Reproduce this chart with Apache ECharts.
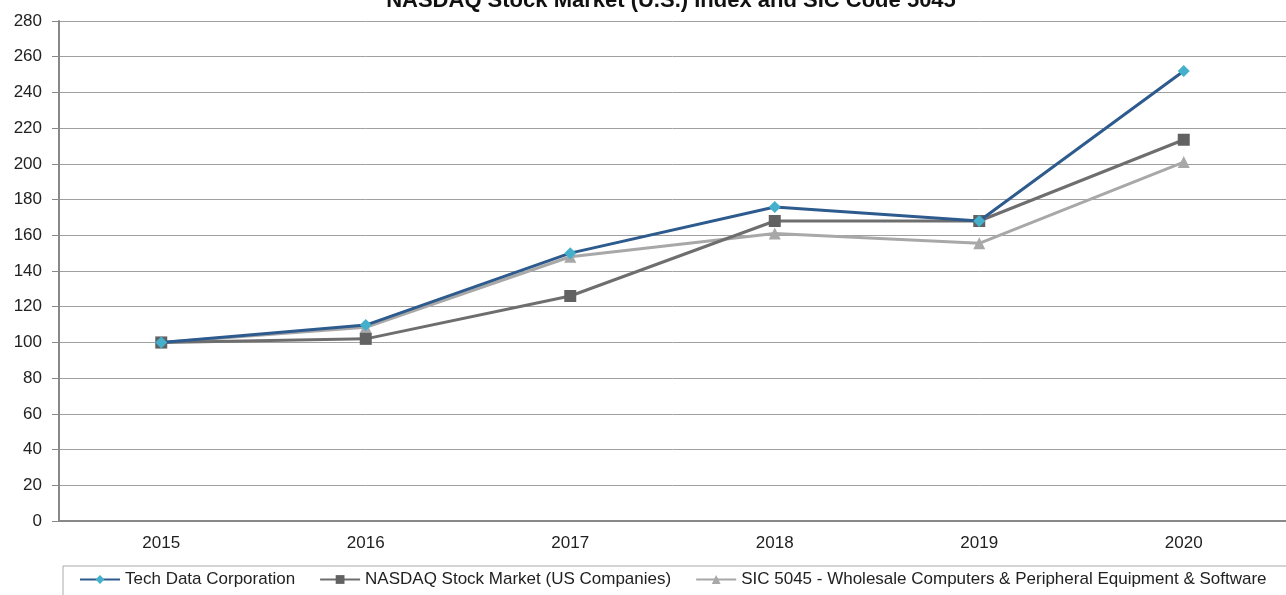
<!DOCTYPE html>
<html><head><meta charset="utf-8">
<script src="https://cdn.jsdelivr.net/npm/echarts@6/dist/echarts.min.js"></script>
<style>html,body{margin:0;padding:0;background:#fff;overflow:hidden}#c{width:1286px;height:595px}</style>
</head><body><div id="c"></div>
<script>
const years = ['2015','2016','2017','2018','2019','2020'];
const techData = [100, 109.7, 150, 175.8, 168, 252];
const nasdaq = [100, 102, 126, 168, 168, 213.5];
const sic5045 = [100, 108.5, 148, 161, 155.5, 201];
const seriesNames = ['Tech Data Corporation', 'NASDAQ Stock Market (US Companies)', 'SIC 5045 - Wholesale Computers & Peripheral Equipment & Software'];
const yTicks = {min: 0, max: 280, interval: 20};

const chart = echarts.init(document.getElementById('c'));
const font = 'Arial, "Liberation Sans", sans-serif';
chart.setOption({
  animation: false,
  backgroundColor: '#fff',
  title: {
    text: 'NASDAQ Stock Market (U.S.) Index and SIC Code 5045',
    left: 666, textAlign: 'center', top: -15,
    textStyle: {fontFamily: font, fontWeight: 'bold', fontSize: 22, color: '#111'}
  },
  grid: {left: 59, width: 1238, top: 21, height: 500},
  legend: {
    left: 63, top: 566, width: 1400,
    padding: [5, 40, 12, 16],
    borderColor: '#aaa', borderWidth: 1,
    itemGap: 24, itemWidth: 40, itemHeight: 11,
    textStyle: {fontFamily: font, fontSize: 17, color: '#222'},
    data: seriesNames
  },
  xAxis: {
    type: 'category', data: years, boundaryGap: true,
    axisLine: {lineStyle: {color: '#888', width: 2}},
    axisTick: {alignWithLabel: true, length: 5, lineStyle: {color: '#888'}},
    axisLabel: {fontFamily: font, fontSize: 17, color: '#222', margin: 14}
  },
  yAxis: {
    type: 'value', min: yTicks.min, max: yTicks.max, interval: yTicks.interval,
    axisLine: {show: true, lineStyle: {color: '#888', width: 2}},
    axisTick: {show: true, length: 7, lineStyle: {color: '#888'}},
    axisLabel: {fontFamily: font, fontSize: 17, color: '#222', margin: 17},
    splitLine: {lineStyle: {color: '#a0a0a0', width: 1}}
  },
  series: [
    {name: seriesNames[0], type: 'line', data: techData, symbol: 'diamond', symbolSize: 12,
     lineStyle: {color: '#2e5b8d', width: 3}, itemStyle: {color: '#45b0cc'}, z: 4},
    {name: seriesNames[1], type: 'line', data: nasdaq, symbol: 'rect', symbolSize: 12,
     lineStyle: {color: '#6e6e6e', width: 3}, itemStyle: {color: '#626262'}, z: 3},
    {name: seriesNames[2], type: 'line', data: sic5045, symbol: 'triangle', symbolSize: 12,
     lineStyle: {color: '#a8a8a8', width: 3}, itemStyle: {color: '#a8a8a8'}, z: 2}
  ]
});
</script></body></html>
